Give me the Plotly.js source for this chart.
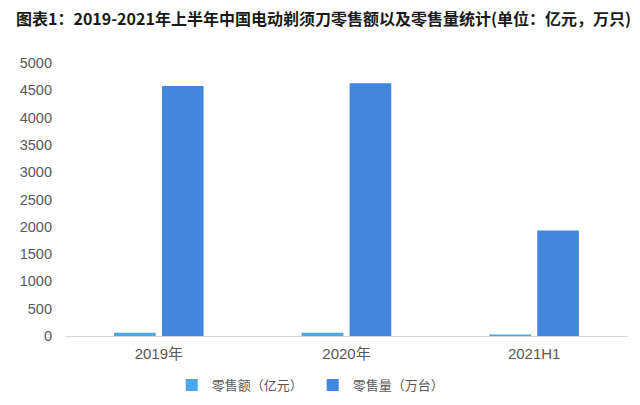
<!DOCTYPE html>
<html>
<head>
<meta charset="utf-8">
<script src="https://cdn.plot.ly/plotly-3.0.1.min.js"></script>
<style>html,body{margin:0;padding:0;background:#fff;}#chart{width:640px;height:405px;}</style>
</head>
<body>
<div id="chart"></div>
<script>
const categories = ["2019年", "2020年", "2021H1"];
const seriesNames = ["零售额（亿元）", "零售量（万台）"];
const salesValue = [60, 60, 28];
const salesVolume = [4580, 4630, 1930];
const yTicks = [0, 500, 1000, 1500, 2000, 2500, 3000, 3500, 4000, 4500, 5000];
const titleText = "图表1：2019-2021年上半年中国电动剃须刀零售额以及零售量统计(单位：亿元，万只)";

const fontFamily = "'Liberation Sans', 'Noto Sans CJK SC', sans-serif";

const data = [
  {type: "bar", name: seriesNames[0], x: categories, y: salesValue,
   marker: {color: "#4aa7ef"}, hoverinfo: "y"},
  {type: "bar", name: seriesNames[1], x: categories, y: salesVolume,
   marker: {color: "#4286e0"}, hoverinfo: "y"}
];

const layout = {
  width: 640, height: 405,
  margin: {l: 65, r: 12, t: 63, b: 69, pad: 0, autoexpand: false},
  paper_bgcolor: "#ffffff", plot_bgcolor: "#ffffff",
  font: {family: fontFamily, color: "#595959", size: 13},
  title: {text: titleText, x: 16/640, xref: "container", xanchor: "left",
          y: 1 - 19/405, yref: "container", yanchor: "middle",
          font: {family: "'Noto Sans CJK SC', sans-serif", size: 16, color: "#1a1a1a", weight: 700}},
  barmode: "group", bargap: 0.49, bargroupgap: 0.13,
  showlegend: true,
  legend: {orientation: "h", x: 0.44, xanchor: "center", y: -0.18, yanchor: "middle",
           font: {family: "'Noto Sans CJK SC', sans-serif", size: 13, color: "#595959"},
           itemwidth: 30, tracegroupgap: 0, entrywidth: 96, entrywidthmode: "pixels"},
  xaxis: {showgrid: false, showline: true, linecolor: "#d9d9d9", linewidth: 1,
          ticks: "", ticklabelstandoff: 4,
          tickfont: {size: 15, color: "#595959", family: "'Liberation Sans','Noto Sans CJK SC', sans-serif"},
          zeroline: false, automargin: false},
  yaxis: {range: [0, 5000], tickvals: yTicks, showgrid: false, zeroline: false,
          showline: false, ticks: "", ticklabelstandoff: 12, automargin: false,
          tickfont: {size: 14.5, color: "#595959"}}
};

Plotly.newPlot("chart", data, layout, {displayModeBar: false, staticPlot: true});
</script>
</body>
</html>
